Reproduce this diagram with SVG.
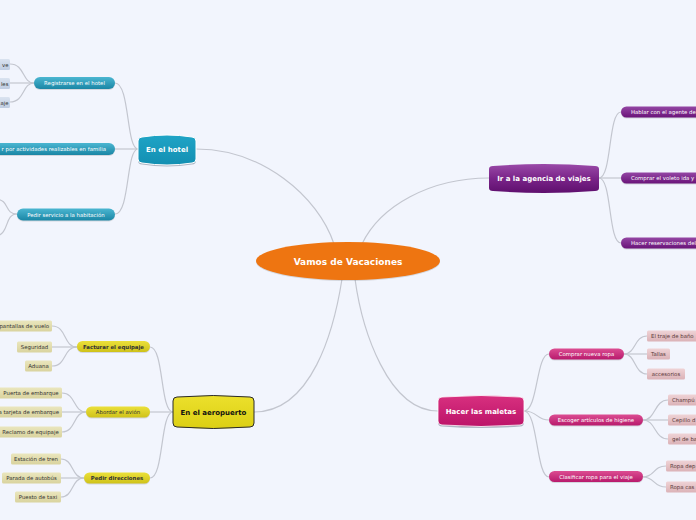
<svg xmlns="http://www.w3.org/2000/svg" width="696" height="520" viewBox="0 0 696 520">
<defs>
<linearGradient id="gTeal" x1="0" y1="0" x2="0" y2="1"><stop offset="0" stop-color="#4bb6d1"/><stop offset="1" stop-color="#1a86a5"/></linearGradient>
<linearGradient id="gTealN" x1="0" y1="0" x2="0" y2="1"><stop offset="0" stop-color="#1fa4c6"/><stop offset="1" stop-color="#138fb2"/></linearGradient>
<linearGradient id="gYel" x1="0" y1="0" x2="0" y2="1"><stop offset="0" stop-color="#ebe03a"/><stop offset="1" stop-color="#cfc21a"/></linearGradient>
<linearGradient id="gYelN" x1="0" y1="0" x2="0" y2="1"><stop offset="0" stop-color="#ece02c"/><stop offset="1" stop-color="#dccf14"/></linearGradient>
<linearGradient id="gTan" x1="0" y1="0" x2="0" y2="1"><stop offset="0" stop-color="#eae6bd"/><stop offset="1" stop-color="#d9d39e"/></linearGradient>
<linearGradient id="gPur" x1="0" y1="0" x2="0" y2="1"><stop offset="0" stop-color="#9446a4"/><stop offset="1" stop-color="#6a1479"/></linearGradient>
<linearGradient id="gPurN" x1="0" y1="0" x2="0" y2="1"><stop offset="0" stop-color="#9a4aa8"/><stop offset="0.5" stop-color="#7a2489"/><stop offset="1" stop-color="#5f0f6e"/></linearGradient>
<linearGradient id="gMag" x1="0" y1="0" x2="0" y2="1"><stop offset="0" stop-color="#dc4d92"/><stop offset="1" stop-color="#b81a6c"/></linearGradient>
<linearGradient id="gMagN" x1="0" y1="0" x2="0" y2="1"><stop offset="0" stop-color="#d8307f"/><stop offset="1" stop-color="#bc1369"/></linearGradient>
<linearGradient id="gPink" x1="0" y1="0" x2="0" y2="1"><stop offset="0" stop-color="#efd3d6"/><stop offset="1" stop-color="#dbb2b7"/></linearGradient>
<linearGradient id="gBlue" x1="0" y1="0" x2="0" y2="1"><stop offset="0" stop-color="#dae3f0"/><stop offset="1" stop-color="#bfcde2"/></linearGradient>
</defs>
<style>
.c{fill:none;stroke:#c3c6cf;stroke-width:1.2}
.t{font-family:"DejaVu Sans",Verdana,sans-serif;font-size:5.4px}
.w{fill:#ffffff}
.k{fill:#333333}
.br{fill:#5a3a3a}
.n{font-family:"DejaVu Sans",Verdana,sans-serif;font-weight:bold;font-size:7px;text-anchor:middle}
.m{text-anchor:middle}
.e{text-anchor:end}
.sh{fill:#000;opacity:0.12}
</style>
<rect width="696" height="520" fill="#f2f5fd"/>

<g id="connectors">
<path class="c" d="M196 149 C262 149 318 196 334 244"/>
<path class="c" d="M489 178 C430 178 380 206 362 244"/>
<path class="c" d="M254 412 C312 412 334 330 342 279"/>
<path class="c" d="M438 411 C388 411 362 330 355 279"/>
<path class="c" d="M138 149 C126 149 130 83 115 83"/>
<path class="c" d="M138 149 L115 149"/>
<path class="c" d="M138 149 C126 149 130 214 115 214"/>
<path class="c" d="M34 83 C22 83 25 64 10 64"/>
<path class="c" d="M34 83 L10 83"/>
<path class="c" d="M34 83 C22 83 25 102 10 102"/>
<path class="c" d="M17 214 C4 214 10 200 -4 199"/>
<path class="c" d="M17 214 C4 214 10 234 -4 236"/>
<path class="c" d="M599 178 C612 178 608 112 621 112"/>
<path class="c" d="M599 178 L621 178"/>
<path class="c" d="M599 178 C612 178 608 243 621 243"/>
<path class="c" d="M173 412 C160 412 164 347 150 347"/>
<path class="c" d="M173 412 L150 412"/>
<path class="c" d="M173 412 C160 412 164 478 150 478"/>
<path class="c" d="M77 347 C63 347 67 326 52 326"/>
<path class="c" d="M77 347 L52 347"/>
<path class="c" d="M77 347 C63 347 67 366 52 366"/>
<path class="c" d="M86 412 C73 412 76 393 62 393"/>
<path class="c" d="M86 412 L62 412"/>
<path class="c" d="M86 412 C73 412 76 432 62 432"/>
<path class="c" d="M84 478 C71 478 74 459 61 459"/>
<path class="c" d="M84 478 L61 478"/>
<path class="c" d="M84 478 C71 478 74 497 61 497"/>
<path class="c" d="M524 411 C538 411 536 354 549 354"/>
<path class="c" d="M524 411 C538 411 536 420 549 420"/>
<path class="c" d="M524 411 C538 411 536 477 549 477"/>
<path class="c" d="M624 354 C636 354 634 336 647 336"/>
<path class="c" d="M624 354 L647 354"/>
<path class="c" d="M624 354 C636 354 634 374 647 374"/>
<path class="c" d="M643 420 C656 420 654 400 668 400"/>
<path class="c" d="M643 420 L668 420"/>
<path class="c" d="M643 420 C656 420 654 439 668 439"/>
<path class="c" d="M643 477 C655 477 653 466 666 466"/>
<path class="c" d="M643 477 C655 477 653 487 666 487"/>
</g>

<g id="center">
<ellipse cx="348" cy="262" rx="92" ry="19" class="sh"/>
<ellipse cx="348" cy="261" rx="92" ry="19" fill="#ee7511"/>
<text x="348" y="264.5" class="n w" style="font-size:9px">Vamos de Vacaciones</text>
</g>

<g id="hotel">
<path d="M138 141 Q138 137 142 137 Q167 133 192 137 Q196 137 196 141 L196 159 Q196 163 192 163 Q167 167 142 163 Q138 163 138 159 Z" fill="#aeb6c4" transform="translate(0,1.5)"/>
<path d="M138 141 Q138 137 142 137 Q167 133 192 137 Q196 137 196 141 L196 159 Q196 163 192 163 Q167 167 142 163 Q138 163 138 159 Z" fill="url(#gTealN)" stroke="#ffffff" stroke-width="1"/>
<text x="167" y="151.5" class="n w">En el hotel</text>
</g>
<g id="registrarse">
<rect x="34" y="78" width="81" height="12" rx="6" class="sh"/>
<rect x="34" y="77" width="81" height="12" rx="6" fill="url(#gTeal)"/>
<text x="74.5" y="85" class="t w m">Registrarse en el hotel</text>
</g>
<g id="reg-ve"><rect x="-4" y="59" width="14" height="11" rx="1.5" fill="url(#gBlue)"/><text x="8.5" y="66.5" class="t k e">ve</text></g>
<g id="reg-les"><rect x="-4" y="78" width="14" height="11" rx="1.5" fill="url(#gBlue)"/><text x="8.5" y="85.5" class="t k e">les</text></g>
<g id="reg-aje"><rect x="-4" y="97" width="14" height="11" rx="1.5" fill="url(#gBlue)"/><text x="8.5" y="104.5" class="t k e">aje</text></g>
<g id="actividades">
<rect x="-10" y="144" width="125" height="12" rx="6" class="sh"/>
<rect x="-10" y="143" width="125" height="12" rx="6" fill="url(#gTeal)"/>
<text x="106" y="151" class="t w e">r por actividades realizables en familia</text>
</g>
<g id="servicio">
<rect x="17" y="209.5" width="98" height="12" rx="6" class="sh"/>
<rect x="17" y="208.5" width="98" height="12" rx="6" fill="url(#gTeal)"/>
<text x="66" y="216.5" class="t w m">Pedir servicio a la habitación</text>
</g>

<g id="agencia">
<path d="M489 169 Q489 166 493 166 Q544 162 595 166 Q599 166 599 169 L599 188 Q599 191 595 191 Q544 195 493 191 Q489 191 489 188 Z" fill="url(#gPurN)"/>
<text x="544" y="181" class="n w">Ir a la agencia de viajes</text>
</g>
<g id="hablar">
<rect x="621" y="107.5" width="90" height="11" rx="5.5" class="sh"/>
<rect x="621" y="106.5" width="90" height="11" rx="5.5" fill="url(#gPur)"/>
<text x="631" y="114" class="t w">Hablar con el agente de</text>
</g>
<g id="voleto">
<rect x="621" y="173.5" width="90" height="11" rx="5.5" class="sh"/>
<rect x="621" y="172.5" width="90" height="11" rx="5.5" fill="url(#gPur)"/>
<text x="631" y="180" class="t w">Comprar el voleto ida y</text>
</g>
<g id="reservaciones">
<rect x="621" y="238.5" width="90" height="11" rx="5.5" class="sh"/>
<rect x="621" y="237.5" width="90" height="11" rx="5.5" fill="url(#gPur)"/>
<text x="631" y="245" class="t w">Hacer reservaciones del</text>
</g>

<g id="aeropuerto">
<path d="M173 401 Q173 397 177 397 Q213 394 250 397 Q254 397 254 401 L254 423 Q254 427 250 427 Q213 430 177 427 Q173 427 173 423 Z" fill="url(#gYelN)" stroke="#2a2a2a" stroke-width="1"/>
<text x="213.5" y="414.5" class="n" fill="#111">En el aeropuerto</text>
</g>
<g id="facturar">
<rect x="77" y="342" width="73" height="11" rx="5.5" class="sh"/>
<rect x="77" y="341" width="73" height="11" rx="5.5" fill="url(#gYel)"/>
<text x="113.5" y="348.5" class="t k m" font-weight="bold">Facturar el equipaje</text>
</g>
<g id="abordar">
<rect x="86" y="407.5" width="64" height="11" rx="5.5" class="sh"/>
<rect x="86" y="406.5" width="64" height="11" rx="5.5" fill="url(#gYel)"/>
<text x="118" y="414" class="t k m">Abordar el avión</text>
</g>
<g id="direcciones">
<rect x="84" y="473.5" width="66" height="11" rx="5.5" class="sh"/>
<rect x="84" y="472.5" width="66" height="11" rx="5.5" fill="url(#gYel)"/>
<text x="117" y="480" class="t k m" font-weight="bold">Pedir direcciones</text>
</g>
<g id="pantallas"><rect x="-4" y="320.5" width="56" height="11" rx="1.5" fill="url(#gTan)"/><text x="49" y="328" class="t k e">pantallas de vuelo</text></g>
<g id="seguridad"><rect x="17" y="341.5" width="35" height="11" rx="1.5" fill="url(#gTan)"/><text x="34.5" y="349" class="t k m">Seguridad</text></g>
<g id="aduana"><rect x="25" y="360.5" width="27" height="11" rx="1.5" fill="url(#gTan)"/><text x="38.5" y="368" class="t k m">Aduana</text></g>
<g id="puerta"><rect x="-2" y="387.5" width="64" height="11" rx="1.5" fill="url(#gTan)"/><text x="31" y="395" class="t k m">Puerta de embarque</text></g>
<g id="tarjeta"><rect x="-4" y="406.5" width="66" height="11" rx="1.5" fill="url(#gTan)"/><text x="59" y="414" class="t k e">a tarjeta de embarque</text></g>
<g id="reclamo"><rect x="-2" y="426.5" width="64" height="11" rx="1.5" fill="url(#gTan)"/><text x="30.5" y="434" class="t k m">Reclamo de equipaje</text></g>
<g id="tren"><rect x="11" y="453.5" width="50" height="11" rx="1.5" fill="url(#gTan)"/><text x="36" y="461" class="t k m">Estación de tren</text></g>
<g id="autobus"><rect x="2" y="472.5" width="59" height="11" rx="1.5" fill="url(#gTan)"/><text x="31.5" y="480" class="t k m">Parada de autobús</text></g>
<g id="taxi"><rect x="15" y="491.5" width="46" height="11" rx="1.5" fill="url(#gTan)"/><text x="38" y="499" class="t k m">Puesto de taxi</text></g>

<g id="maletas">
<path d="M438 401 Q438 397 442 397 Q481 394 520 397 Q524 397 524 401 L524 421 Q524 425 520 425 Q481 428 442 425 Q438 425 438 421 Z" fill="#aeb6c4" transform="translate(0,1.5)"/>
<path d="M438 401 Q438 397 442 397 Q481 394 520 397 Q524 397 524 401 L524 421 Q524 425 520 425 Q481 428 442 425 Q438 425 438 421 Z" fill="url(#gMagN)" stroke="#ffffff" stroke-width="0.8"/>
<text x="481" y="413.5" class="n w">Hacer las maletas</text>
</g>
<g id="comprar">
<rect x="549" y="349.5" width="75" height="11" rx="5.5" class="sh"/>
<rect x="549" y="348.5" width="75" height="11" rx="5.5" fill="url(#gMag)"/>
<text x="586.5" y="356" class="t w m">Comprar nueva ropa</text>
</g>
<g id="higiene">
<rect x="549" y="415.5" width="94" height="11" rx="5.5" class="sh"/>
<rect x="549" y="414.5" width="94" height="11" rx="5.5" fill="url(#gMag)"/>
<text x="596" y="422" class="t w m">Escoger artículos de higiene</text>
</g>
<g id="clasificar">
<rect x="549" y="472" width="94" height="11" rx="5.5" class="sh"/>
<rect x="549" y="471" width="94" height="11" rx="5.5" fill="url(#gMag)"/>
<text x="596" y="478.5" class="t w m">Clasificar ropa para el viaje</text>
</g>
<g id="traje"><rect x="647" y="330.5" width="56" height="11" rx="1.5" fill="url(#gPink)"/><text x="651" y="338" class="t br">El traje de baño</text></g>
<g id="tallas"><rect x="647" y="348.5" width="23" height="11" rx="1.5" fill="url(#gPink)"/><text x="658.5" y="356" class="t br m">Tallas</text></g>
<g id="accesorios"><rect x="647" y="368.5" width="38" height="11" rx="1.5" fill="url(#gPink)"/><text x="666" y="376" class="t br m">accesorios</text></g>
<g id="champu"><rect x="668" y="394.5" width="40" height="11" rx="1.5" fill="url(#gPink)"/><text x="672" y="402" class="t br">Champú</text></g>
<g id="cepillo"><rect x="668" y="414.5" width="40" height="11" rx="1.5" fill="url(#gPink)"/><text x="672" y="422" class="t br">Cepillo d</text></g>
<g id="gel"><rect x="668" y="433.5" width="40" height="11" rx="1.5" fill="url(#gPink)"/><text x="672" y="441" class="t br">gel de ba</text></g>
<g id="ropadep"><rect x="666" y="460.5" width="40" height="11" rx="1.5" fill="url(#gPink)"/><text x="670" y="468" class="t br">Ropa dep</text></g>
<g id="ropacas"><rect x="666" y="481.5" width="40" height="11" rx="1.5" fill="url(#gPink)"/><text x="670" y="489" class="t br">Ropa cas</text></g>
</svg>
